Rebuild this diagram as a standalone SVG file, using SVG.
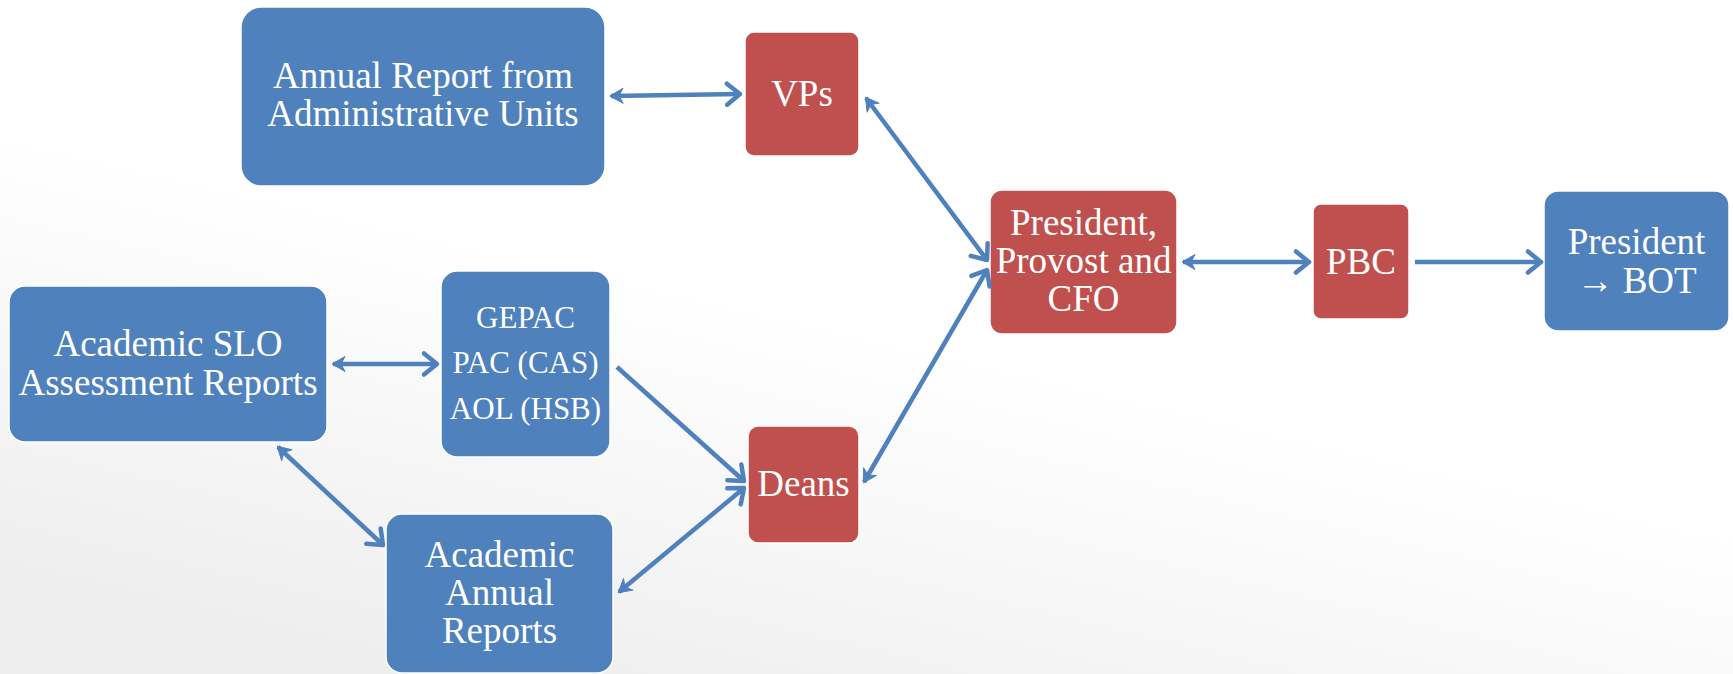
<svg xmlns="http://www.w3.org/2000/svg" width="1733" height="674" viewBox="0 0 1733 674">
<defs>
<linearGradient id="bg" x1="0.8" y1="0" x2="0.2" y2="1">
<stop offset="0" stop-color="#ffffff"/>
<stop offset="0.5" stop-color="#ffffff"/>
<stop offset="1" stop-color="#ededed"/>
</linearGradient>
<marker id="chev" markerUnits="userSpaceOnUse" markerWidth="40" markerHeight="40" viewBox="-20 -20 40 40" refX="0" refY="0" orient="auto">
<path d="M -13,-10.5 L 0,0 L -13,10.5" fill="none" stroke="#4F81BD" stroke-width="4.5" stroke-linecap="round" stroke-linejoin="round"/>
</marker>
<marker id="stealth" markerUnits="userSpaceOnUse" markerWidth="40" markerHeight="40" viewBox="-20 -20 40 40" refX="0" refY="0" orient="auto-start-reverse">
<path d="M 1,0 L -12,-7.5 L -8,0 L -12,7.5 Z" fill="#4F81BD" stroke="#4F81BD" stroke-width="1" stroke-linejoin="round"/>
</marker>
</defs>
<style>
.blue{fill:#4F81BD;stroke:#ffffff;stroke-width:1.5}
.red{fill:#C0504D;stroke:#ffffff;stroke-width:1.5}
.t{font-family:"Liberation Serif","Times New Roman",serif;fill:#ffffff;font-size:37px;text-anchor:middle}
.s{font-size:31px}
.c{fill:none;stroke:#4F81BD;stroke-width:4.5}
.two{marker-start:url(#stealth);marker-end:url(#chev)}
.one{marker-end:url(#chev)}
</style>
<rect width="1733" height="674" fill="url(#bg)"/>

<g id="annual-report">
<rect class="blue" x="241" y="7" width="364" height="179" rx="20"/>
<text class="t" x="423" y="88">Annual Report from</text>
<text class="t" x="423" y="126">Administrative Units</text>
</g>
<g id="vps">
<rect class="red" x="745" y="32" width="114" height="124" rx="9"/>
<text class="t" x="802" y="106">VPs</text>
</g>
<g id="president-provost-cfo">
<rect class="red" x="990" y="190" width="187" height="144" rx="12"/>
<text class="t" x="1083.5" y="235">President,</text>
<text class="t" x="1083.5" y="273">Provost and</text>
<text class="t" x="1083.5" y="311">CFO</text>
</g>
<g id="pbc">
<rect class="red" x="1313" y="204" width="96" height="115" rx="8"/>
<text class="t" x="1361" y="274">PBC</text>
</g>
<g id="president-bot">
<rect class="blue" x="1544" y="191" width="185" height="140" rx="14"/>
<text class="t" x="1636.5" y="254">President</text>
<text class="t" x="1636.5" y="293">→ BOT</text>
</g>
<g id="academic-slo">
<rect class="blue" x="9" y="286" width="318" height="156" rx="16"/>
<text class="t" x="168" y="356">Academic SLO</text>
<text class="t" x="168" y="395">Assessment Reports</text>
</g>
<g id="gepac">
<rect class="blue" x="441" y="271" width="169" height="186" rx="16"/>
<text class="t s" x="525.5" y="328">GEPAC</text>
<text class="t s" x="525.5" y="373">PAC (CAS)</text>
<text class="t s" x="525.5" y="419">AOL (HSB)</text>
</g>
<g id="deans">
<rect class="red" x="748" y="426" width="111" height="117" rx="10"/>
<text class="t" x="803.5" y="496">Deans</text>
</g>
<g id="academic-annual">
<rect class="blue" x="386" y="514" width="227" height="159" rx="16"/>
<text class="t" x="499.5" y="567">Academic</text>
<text class="t" x="499.5" y="605">Annual</text>
<text class="t" x="499.5" y="643">Reports</text>
</g>

<g id="connectors">
<line class="c two" x1="611" y1="96" x2="740" y2="94"/>
<line class="c two" x1="866" y1="98" x2="987" y2="260"/>
<line class="c two" x1="864" y1="482" x2="987" y2="270"/>
<line class="c two" x1="1183" y1="262" x2="1309" y2="262"/>
<line class="c one" x1="1415" y1="262" x2="1541" y2="262"/>
<line class="c two" x1="333" y1="364" x2="437" y2="364"/>
<line class="c one" x1="617" y1="367" x2="744" y2="481"/>
<line class="c two" x1="278" y1="447" x2="383" y2="545"/>
<line class="c two" x1="619" y1="592" x2="744" y2="488"/>
</g>
</svg>
